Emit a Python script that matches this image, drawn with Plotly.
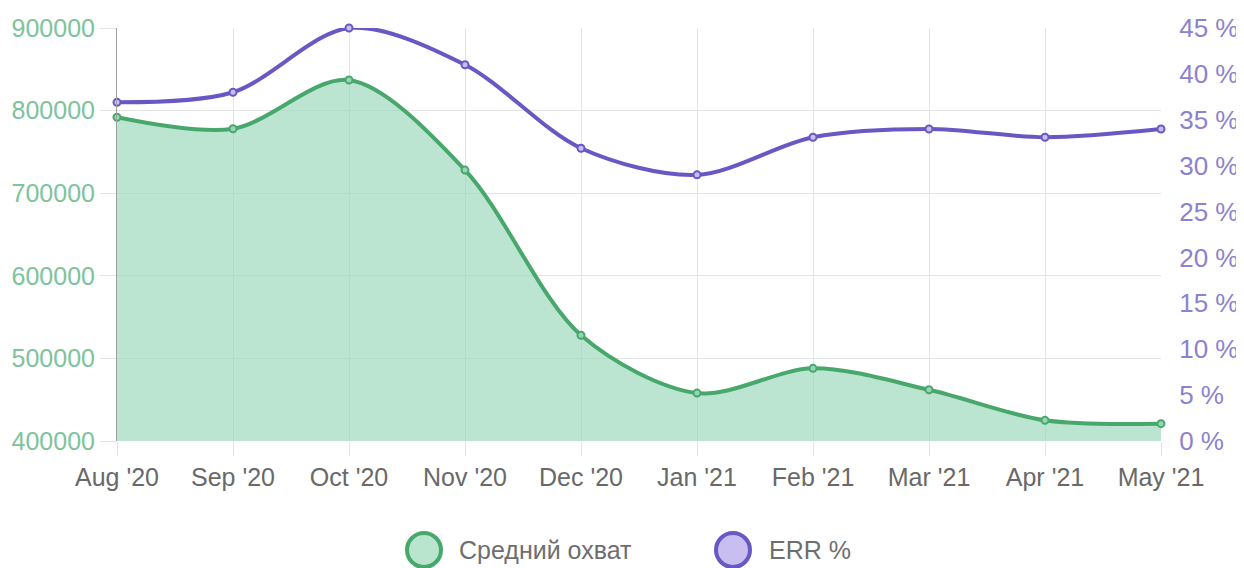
import plotly.graph_objects as go

months = ["Aug '20", "Sep '20", "Oct '20", "Nov '20", "Dec '20", "Jan '21", "Feb '21", "Mar '21", "Apr '21", "May '21"]
reach = [792000, 778000, 837000, 728000, 528000, 458000, 488000, 462000, 425000, 421000]
err = [36.9, 38.0, 45.0, 41.0, 31.9, 29.0, 33.1, 34.0, 33.1, 34.0]

left_ticks = [400000, 500000, 600000, 700000, 800000, 900000]
left_labels = [str(v) for v in left_ticks]
right_ticks = [0, 5, 10, 15, 20, 25, 30, 35, 40, 45]
right_labels = [f"{v} %" for v in right_ticks]
legend_names = ["Средний охват", "ERR %"]

GREEN = "rgb(72,168,108)"
GREEN_FILL = "rgba(150,214,184,0.65)"
PURPLE = "rgb(104,88,196)"
PURPLE_FILL = "rgb(200,190,240)"
GRID = "rgb(228,228,228)"
FONT = "Liberation Sans"

W, H = 1244, 568
OFF = 8  # page body offset
plot_l, plot_r, plot_t, plot_b = 117, 1161, 28, 441

fig = go.Figure()
fig.add_trace(go.Scatter(
    x=months, y=reach, mode="lines+markers", fill="tozeroy", fillcolor=GREEN_FILL,
    line=dict(color=GREEN, width=4, shape="spline", smoothing=0.9),
    marker=dict(size=7, color="rgba(150,214,184,1)", line=dict(color=GREEN, width=2)),
    showlegend=False, yaxis="y", cliponaxis=False, name=legend_names[0]))
fig.add_trace(go.Scatter(
    x=months, y=err, mode="lines+markers",
    line=dict(color=PURPLE, width=4, shape="spline", smoothing=0.9),
    marker=dict(size=7, color=PURPLE_FILL, line=dict(color=PURPLE, width=2)),
    showlegend=False, yaxis="y2", cliponaxis=False, name=legend_names[1]))

def px_x(p):
    return (p - plot_l) / (plot_r - plot_l)
def px_y(p):
    return (plot_b - p) / (plot_b - plot_t)

leg_y = px_y(550)
for cx, tx, fill, col, name in [(424, 457, "rgb(185,228,206)", GREEN, legend_names[0]),
                                (733, 767, PURPLE_FILL, PURPLE, legend_names[1])]:
    fig.add_shape(type="circle", xref="paper", yref="paper",
                  xsizemode="pixel", ysizemode="pixel",
                  xanchor=px_x(cx), yanchor=leg_y,
                  x0=-17, x1=17, y0=-17, y1=17,
                  fillcolor=fill, line=dict(color=col, width=4))
    fig.add_annotation(x=px_x(tx), y=leg_y, xref="paper", yref="paper",
                       text=name, showarrow=False, xanchor="left", yanchor="middle",
                       font=dict(family=FONT, size=25, color="rgb(110,110,110)"))

fig.update_layout(
    width=W, height=H,
    margin=dict(l=plot_l - OFF, r=W - (plot_r - OFF), t=plot_t - OFF, b=H - (plot_b - OFF)),
    paper_bgcolor="white", plot_bgcolor="white", showlegend=False,
    font=dict(family=FONT, size=25, color="rgb(110,110,110)"),
    xaxis=dict(showgrid=True, gridcolor=GRID, gridwidth=1,
               zeroline=False, showline=False, ticks="outside", ticklen=14,
               tickcolor=GRID, range=[0, 9], automargin=False,
               tickfont=dict(size=25, color="rgb(105,105,105)")),
    yaxis=dict(range=[400000, 900000], tickvals=left_ticks, ticktext=left_labels,
               showgrid=True, automargin=False,
               gridcolor=GRID, zeroline=False, showline=True,
               linecolor="rgb(160,160,160)", linewidth=1, ticks="outside", ticklen=16,
               tickcolor=GRID,
               tickfont=dict(size=25, color="rgb(125,195,155)")),
    yaxis2=dict(range=[0, 45], tickvals=right_ticks, ticktext=right_labels,
                overlaying="y", side="right", showgrid=False, zeroline=False,
                automargin=False, ticks="outside", ticklen=12, tickcolor="rgba(0,0,0,0)",
                tickfont=dict(size=26, color="rgb(140,130,205)")),
)
fig.write_html("out.html")
